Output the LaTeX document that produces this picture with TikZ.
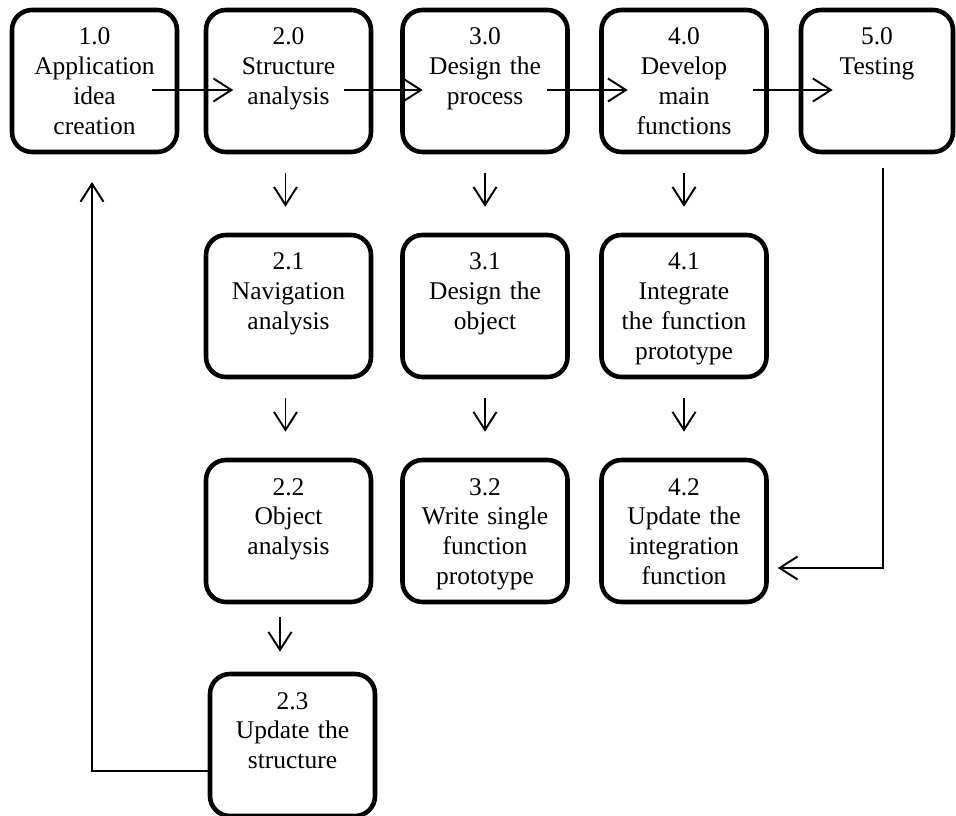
\documentclass[tikz,border=0pt]{standalone}
\usepackage{fontspec}
\setmainfont{Liberation Serif}
\usepackage{tikz}
\usetikzlibrary{positioning, arrows.meta, calc}

\begin{document}
\begin{tikzpicture}[font=\fontsize{14.5}{17}\selectfont, >={Straight Barb[length=0.36cm, width=0.46cm]},
      box/.style={draw, line width=2.6pt, rounded corners=0.4cm, align=center, inner xsep=0.15cm, inner ysep=0.2cm,
                  text width=3.0cm, text height=0.5cm, text depth=1.94cm},
      conn/.style={->, line width=1.1pt},
      vstep/.style={conn, shorten <=0.38cm, shorten >=0.52cm}]
    \useasboundingbox (0,0) rectangle (19.12,-16.32);
    \node[box] (n10) at (1.89,-1.62)  {1.0\\Application\\idea\\creation};
    \node[box] (n20) at (5.77,-1.62)  {2.0\\Structure\\analysis};
    \node[box] (n30) at (9.70,-1.62)  {3.0\\Design the\\process};
    \node[box] (n40) at (13.68,-1.62) {4.0\\Develop\\main\\functions};
    \node[box, text width=2.74cm] (n50) at (17.54,-1.62) {5.0\\Testing};
    \node[box] (n21) at (5.77,-6.12)  {2.1\\Navigation\\analysis};
    \node[box] (n31) at (9.70,-6.12)  {3.1\\Design the\\object};
    \node[box] (n41) at (13.68,-6.12) {4.1\\Integrate\\the function\\prototype};
    \node[box] (n22) at (5.77,-10.62) {2.2\\Object\\analysis};
    \node[box] (n32) at (9.70,-10.62) {3.2\\Write single\\function\\prototype};
    \node[box] (n42) at (13.68,-10.62) {4.2\\Update the\\integration\\function};
    \node[box] (n23) at (5.85,-14.90) {2.3\\Update the\\structure};
    \coordinate (back) at (1.84,-3.64);
    \coordinate (test) at (17.66,-3.36);
    \draw[conn, shorten <=-0.54cm, shorten >=-0.59cm] ([yshift=-0.18cm]n10.east) -- ([yshift=-0.18cm]n20.west);
    \draw[conn, shorten <=-0.58cm, shorten >=-0.45cm] ([yshift=-0.18cm]n20.east) -- ([yshift=-0.18cm]n30.west);
    \draw[conn, shorten <=-0.45cm, shorten >=-0.57cm] ([yshift=-0.18cm]n30.east) -- ([yshift=-0.18cm]n40.west);
    \draw[conn, shorten <=-0.31cm, shorten >=-0.68cm] ([yshift=-0.18cm]n40.east) -- ([yshift=-0.18cm]n50.west);
    \draw[vstep] ([xshift=-0.06cm]n20.south) -- ([xshift=-0.06cm]n21.north);
    \draw[vstep] (n30) -- (n31);
    \draw[vstep] (n40) -- (n41);
    \draw[vstep] ([xshift=-0.06cm]n21.south) -- ([xshift=-0.06cm]n22.north);
    \draw[vstep] (n31) -- (n32);
    \draw[vstep] (n41) -- (n42);
    \draw[conn, shorten <=0.26cm, shorten >=0.4cm] ([xshift=-0.17cm]n22.south) -- ([xshift=-0.17cm]n22.south |- n23.north);
    \draw[conn] ([yshift=-0.52cm]n23.west) -| (back);
    \draw[conn, shorten >=0.18cm] (test) |- ([yshift=-0.74cm]n42.east);
  \end{tikzpicture}
\end{document}
